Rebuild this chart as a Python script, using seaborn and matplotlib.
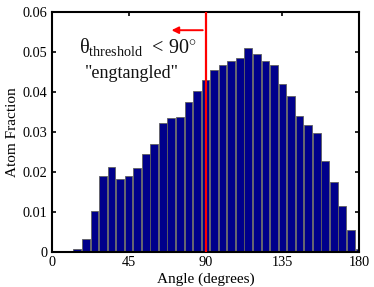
import matplotlib as mpl
mpl.use("Agg")
import matplotlib.pyplot as plt
import numpy as np
import pandas as pd
import seaborn as sns

# histogram of bond angles, bin centres every 5 degrees
angle_centers = list(range(0, 185, 5))
atom_fraction = [
    0.0, 0.0, 0.0, 0.0007, 0.0034, 0.0102, 0.0190, 0.0213, 0.0183, 0.0190,
    0.0211, 0.0246, 0.0269, 0.0322, 0.0334, 0.0337, 0.0374, 0.0403, 0.0429,
    0.0455, 0.0466, 0.0477, 0.0485, 0.0510, 0.0494, 0.0476, 0.0466, 0.0421,
    0.0390, 0.0339, 0.0317, 0.0298, 0.0228, 0.0175, 0.0115, 0.0056, 0.0008,
]
x_ticks = [0, 45, 90, 135, 180]
y_ticks = [0, 0.01, 0.02, 0.03, 0.04, 0.05, 0.06]
threshold = 90

df = pd.DataFrame({"angle": angle_centers, "fraction": atom_fraction})

sns.set_theme(style="ticks", rc={
    "axes.edgecolor": "black", "text.color": "black",
    "xtick.color": "black", "ytick.color": "black",
    "axes.labelcolor": "black",
})
plt.rcParams["font.family"] = ["Liberation Serif", "DejaVu Serif"]
plt.rcParams["mathtext.fontset"] = "custom"
plt.rcParams["mathtext.rm"] = "Liberation Serif"
plt.rcParams["mathtext.it"] = "Liberation Serif:italic"

fig = plt.figure(figsize=(3.74, 2.87), dpi=100)
ax = fig.add_axes([0.138, 0.121, 0.823, 0.838])

sns.barplot(
    data=df, x="angle", y="fraction", native_scale=True, width=0.9,
    color="#00008B", saturation=1, edgecolor="#606060", linewidth=0.6, ax=ax,
)

# threshold marker
ax.plot([threshold, threshold], [0, 0.06], color="red", lw=1.6, zorder=5)
ax.annotate(
    "", xy=(68.5, 0.0554), xytext=(threshold, 0.0554),
    arrowprops=dict(arrowstyle="-|>", color="red", lw=1.4, mutation_scale=10),
    zorder=5,
)
ax.text(16, 0.0496, r"θ$_{\mathrm{threshold}}$  < 90$^{\circ}$",
        fontsize=14.5, color="#111111", va="baseline")
ax.text(47, 0.0434, '"engtangled"', fontsize=13, ha="center",
        va="baseline", color="#111111")

ax.set_xlim(0, 180)
ax.set_ylim(0, 0.06)
ax.set_xticks(x_ticks)
ax.set_xticklabels([str(t) for t in x_ticks])
ax.set_yticks(y_ticks)
ax.set_yticklabels(["0", "0.01", "0.02", "0.03", "0.04", "0.05", "0.06"])
ax.tick_params(direction="in", length=3, width=1.2, labelsize=10.3,
               top=True, right=True, pad=3)
ax.set_xlabel("Angle (degrees)", fontsize=11, labelpad=2)
ax.set_ylabel("Atom Fraction", fontsize=11, labelpad=3)
for s in ax.spines.values():
    s.set_linewidth(1.5)
    s.set_visible(True)

fig.savefig("out.png", dpi=100)
